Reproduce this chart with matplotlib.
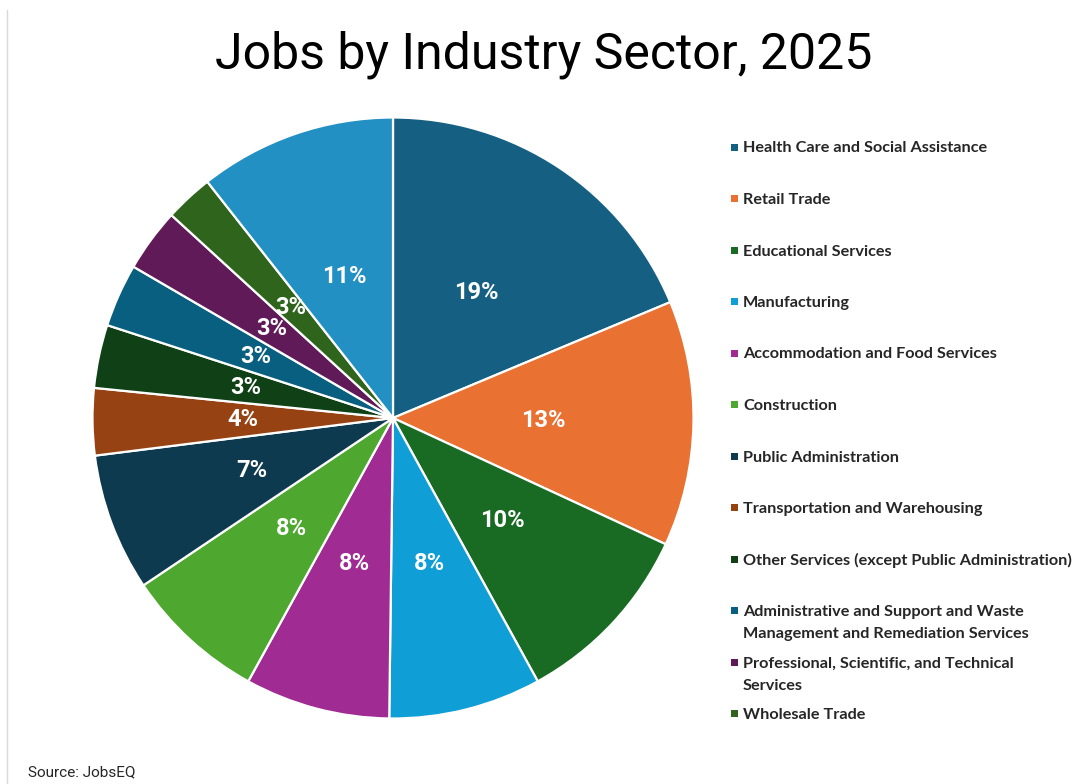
import matplotlib
matplotlib.use("Agg")
import matplotlib.pyplot as plt
from matplotlib.patches import Rectangle
from matplotlib.lines import Line2D

# Share of total jobs by sector (percent), clockwise from 12 o'clock
sectors = [
    "Health Care and Social Assistance",
    "Retail Trade",
    "Educational Services",
    "Manufacturing",
    "Accommodation and Food Services",
    "Construction",
    "Public Administration",
    "Transportation and Warehousing",
    "Other Services (except Public Administration)",
    "Administrative and Support and Waste\nManagement and Remediation Services",
    "Professional, Scientific, and Technical\nServices",
    "Wholesale Trade",
    "All Other Industries",
]
shares = [18.7, 13.2, 10.1, 8.2, 7.8, 7.6, 7.4, 3.6, 3.4, 3.4, 3.4, 2.6, 10.6]
colors = [
    "#156082", "#E97132", "#196B24", "#0F9ED5", "#A02B93", "#4EA72E",
    "#0E3A4F", "#974213", "#0F4016", "#095F80", "#601A58", "#2F641C",
    "#2290C3",
]
legend_count = 12  # the last slice is not listed in the legend

title = "Jobs by Industry Sector, 2025"
source = "Source: JobsEQ"

W, H = 1073, 784
fig = plt.figure(figsize=(W / 100, H / 100), dpi=100)

# Pie axes: centre (393, 418) px, radius 302 px
cx, cy, r = 393, 418, 302
ax = fig.add_axes([(cx - r) / W, (H - cy - r) / H, 2 * r / W, 2 * r / H])
wedges, texts, autotexts = ax.pie(
    shares,
    colors=colors,
    startangle=90,
    counterclock=False,
    radius=1.0,
    autopct="%.0f%%",
    pctdistance=0.5,
    wedgeprops=dict(edgecolor="white", linewidth=1.6),
    textprops=dict(color="white", fontsize=17, fontweight="bold",
                   family=["Roboto", "DejaVu Sans"]),
)
ax.set_xlim(-1.005, 1.005)
ax.set_ylim(-1.005, 1.005)
ax.set_aspect("equal")
ax.axis("off")

# Title
fig.text(544 / W, (H - 55) / H, title, ha="center", va="center",
         fontsize=36, color="black", family=["Roboto", "DejaVu Sans"])

# Legend, drawn as squares + labels in a fixed column
leg_x_marker = 731
leg_x_text = 743
leg_y0 = 147
leg_step = 51.5
line_gap = 22
msize = 7
for i in range(legend_count):
    yc = leg_y0 + i * leg_step
    fig.patches.append(Rectangle((leg_x_marker / W, (H - yc - msize / 2) / H),
                                 msize / W, msize / H, transform=fig.transFigure,
                                 facecolor=colors[i], edgecolor="none"))
    for k, line in enumerate(sectors[i].split("\n")):
        fig.text(leg_x_text / W, (H - yc - k * line_gap) / H, line,
                 ha="left", va="center_baseline",
                 fontsize=11.7, fontweight="bold", color="#262626",
                 family=["Lato", "DejaVu Sans"])

# Source note
fig.text(28 / W, (H - 772) / H, source, ha="left", va="center",
         fontsize=11, color="#262626", family=["Roboto", "DejaVu Sans"])

# Thin grey frame edge on the left
fig.add_artist(Line2D([7 / W, 7 / W], [0, (H - 10) / H], transform=fig.transFigure,
                      color="#D9D9D9", linewidth=1))

fig.savefig("out.png", dpi=100, facecolor="white")
